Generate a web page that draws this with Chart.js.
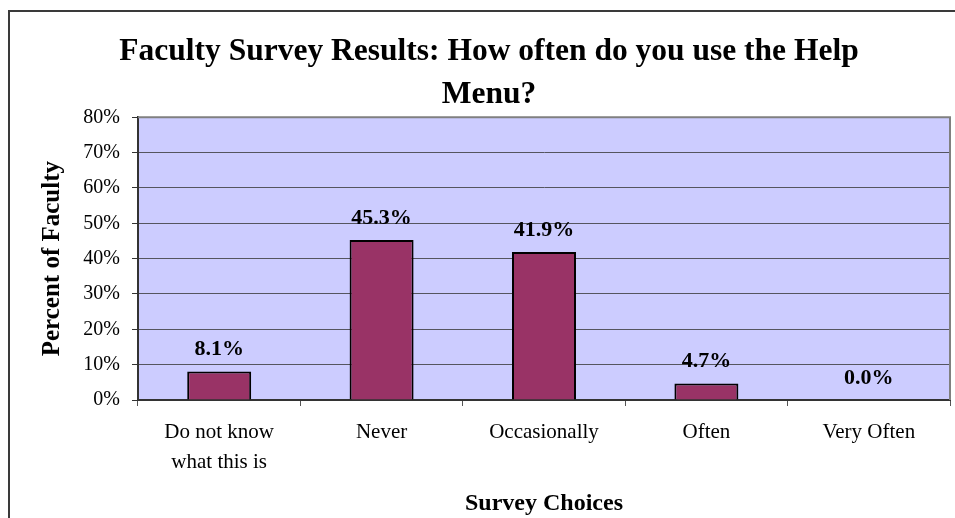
<!DOCTYPE html>
<html>
<head>
<meta charset="utf-8">
<script src="https://cdn.jsdelivr.net/npm/chart.js@4"></script>
<style>
  html, body { margin: 0; padding: 0; background: #fff; overflow: hidden; }
  #frame {
    position: absolute;
    left: 8px;
    top: 10px;
    width: 958px;
    height: 520px;
    border: 2px solid #3a3a3a;
  }
  canvas { display: block; }
</style>
</head>
<body>
<div id="frame">
  <canvas id="survey-chart" width="958" height="520"></canvas>
</div>
<script>
// Ответы преподавателей
const choices = [
    ['Do not know', 'what this is'],
    'Never',
    'Occasionally',
    'Often',
    'Very Often'
];
const percents = [8.1, 45.3, 41.9, 4.7, 0.0];
const yTicks = [0, 10, 20, 30, 40, 50, 60, 70, 80];

const serif = '"Liberation Serif", "Times New Roman", serif';

// Фон области графика и серая рамка сверху/справа
const plotFrame = {
    id: 'plotFrame',
    beforeDraw(chart) {
        const { ctx, chartArea: a } = chart;
        ctx.save();
        ctx.fillStyle = '#CCCCFF';
        ctx.fillRect(a.left, a.top, a.right - a.left, a.bottom - a.top);
        ctx.restore();
    },
    afterDraw(chart) {
        const { ctx, chartArea: a } = chart;
        ctx.save();
        ctx.strokeStyle = '#808080';
        ctx.lineWidth = 2;
        ctx.beginPath();
        ctx.moveTo(a.left, a.top);
        ctx.lineTo(a.right, a.top);
        ctx.lineTo(a.right, a.bottom);
        ctx.stroke();
        ctx.restore();
    }
};

// Подписи значений над столбцами
const valueLabels = {
    id: 'valueLabels',
    afterDatasetsDraw(chart) {
        const { ctx } = chart;
        const meta = chart.getDatasetMeta(0);
        ctx.save();
        ctx.font = 'bold 22px ' + serif;
        ctx.fillStyle = '#000';
        ctx.textAlign = 'center';
        ctx.textBaseline = 'alphabetic';
        meta.data.forEach((bar, i) => {
            ctx.fillText(percents[i].toFixed(1) + '%', bar.x, bar.y - 16);
        });
        ctx.restore();
    }
};

new Chart(document.getElementById('survey-chart'), {
    type: 'bar',
    data: {
        labels: choices,
        datasets: [{
            data: percents,
            backgroundColor: '#993366',
            borderColor: '#000',
            borderWidth: 2,
            categoryPercentage: 1,
            barPercentage: 0.394
        }]
    },
    options: {
        responsive: false,
        animation: false,
        devicePixelRatio: 1,
        layout: { padding: { left: 18, right: 18, top: 0, bottom: 0 } },
        plugins: {
            legend: { display: false },
            tooltip: { enabled: false },
            title: {
                display: true,
                text: ['Faculty Survey Results: How often do you use the Help', 'Menu?'],
                color: '#000',
                font: { family: serif, size: 31.5, weight: 'bold', lineHeight: 1.37 },
                padding: { top: 18, bottom: 1 }
            }
        },
        scales: {
            x: {
                afterFit(scale) { scale.height = 132; },
                border: { display: true, color: '#333', width: 2 },
                grid: {
                    drawOnChartArea: false,
                    drawTicks: true,
                    tickLength: 6,
                    tickColor: '#555'
                },
                ticks: {
                    color: '#000',
                    padding: 11,
                    maxRotation: 0,
                    font: { family: serif, size: 21, lineHeight: 1.43 }
                },
                title: {
                    display: true,
                    text: 'Survey Choices',
                    color: '#000',
                    font: { family: serif, size: 24, weight: 'bold', lineHeight: 1.2 },
                    padding: { top: 0, bottom: 14 }
                }
            },
            y: {
                min: 0,
                max: 80,
                afterFit(scale) { scale.width = 110; },
                afterBuildTicks(scale) {
                    scale.ticks = yTicks.map(v => ({ value: v }));
                },
                border: { display: true, color: '#333', width: 2 },
                grid: {
                    color: '#55555f',
                    lineWidth: 1,
                    drawTicks: true,
                    tickLength: 6,
                    tickColor: '#333'
                },
                ticks: {
                    color: '#000',
                    padding: 12,
                    callback: v => v + '%',
                    font: { family: serif, size: 20 }
                },
                title: {
                    display: true,
                    text: 'Percent of Faculty',
                    color: '#000',
                    font: { family: serif, size: 25, weight: 'bold', lineHeight: 1.2 },
                    padding: { top: 10, bottom: 0 }
                }
            }
        }
    },
    plugins: [plotFrame, valueLabels]
});
</script>
</body>
</html>
